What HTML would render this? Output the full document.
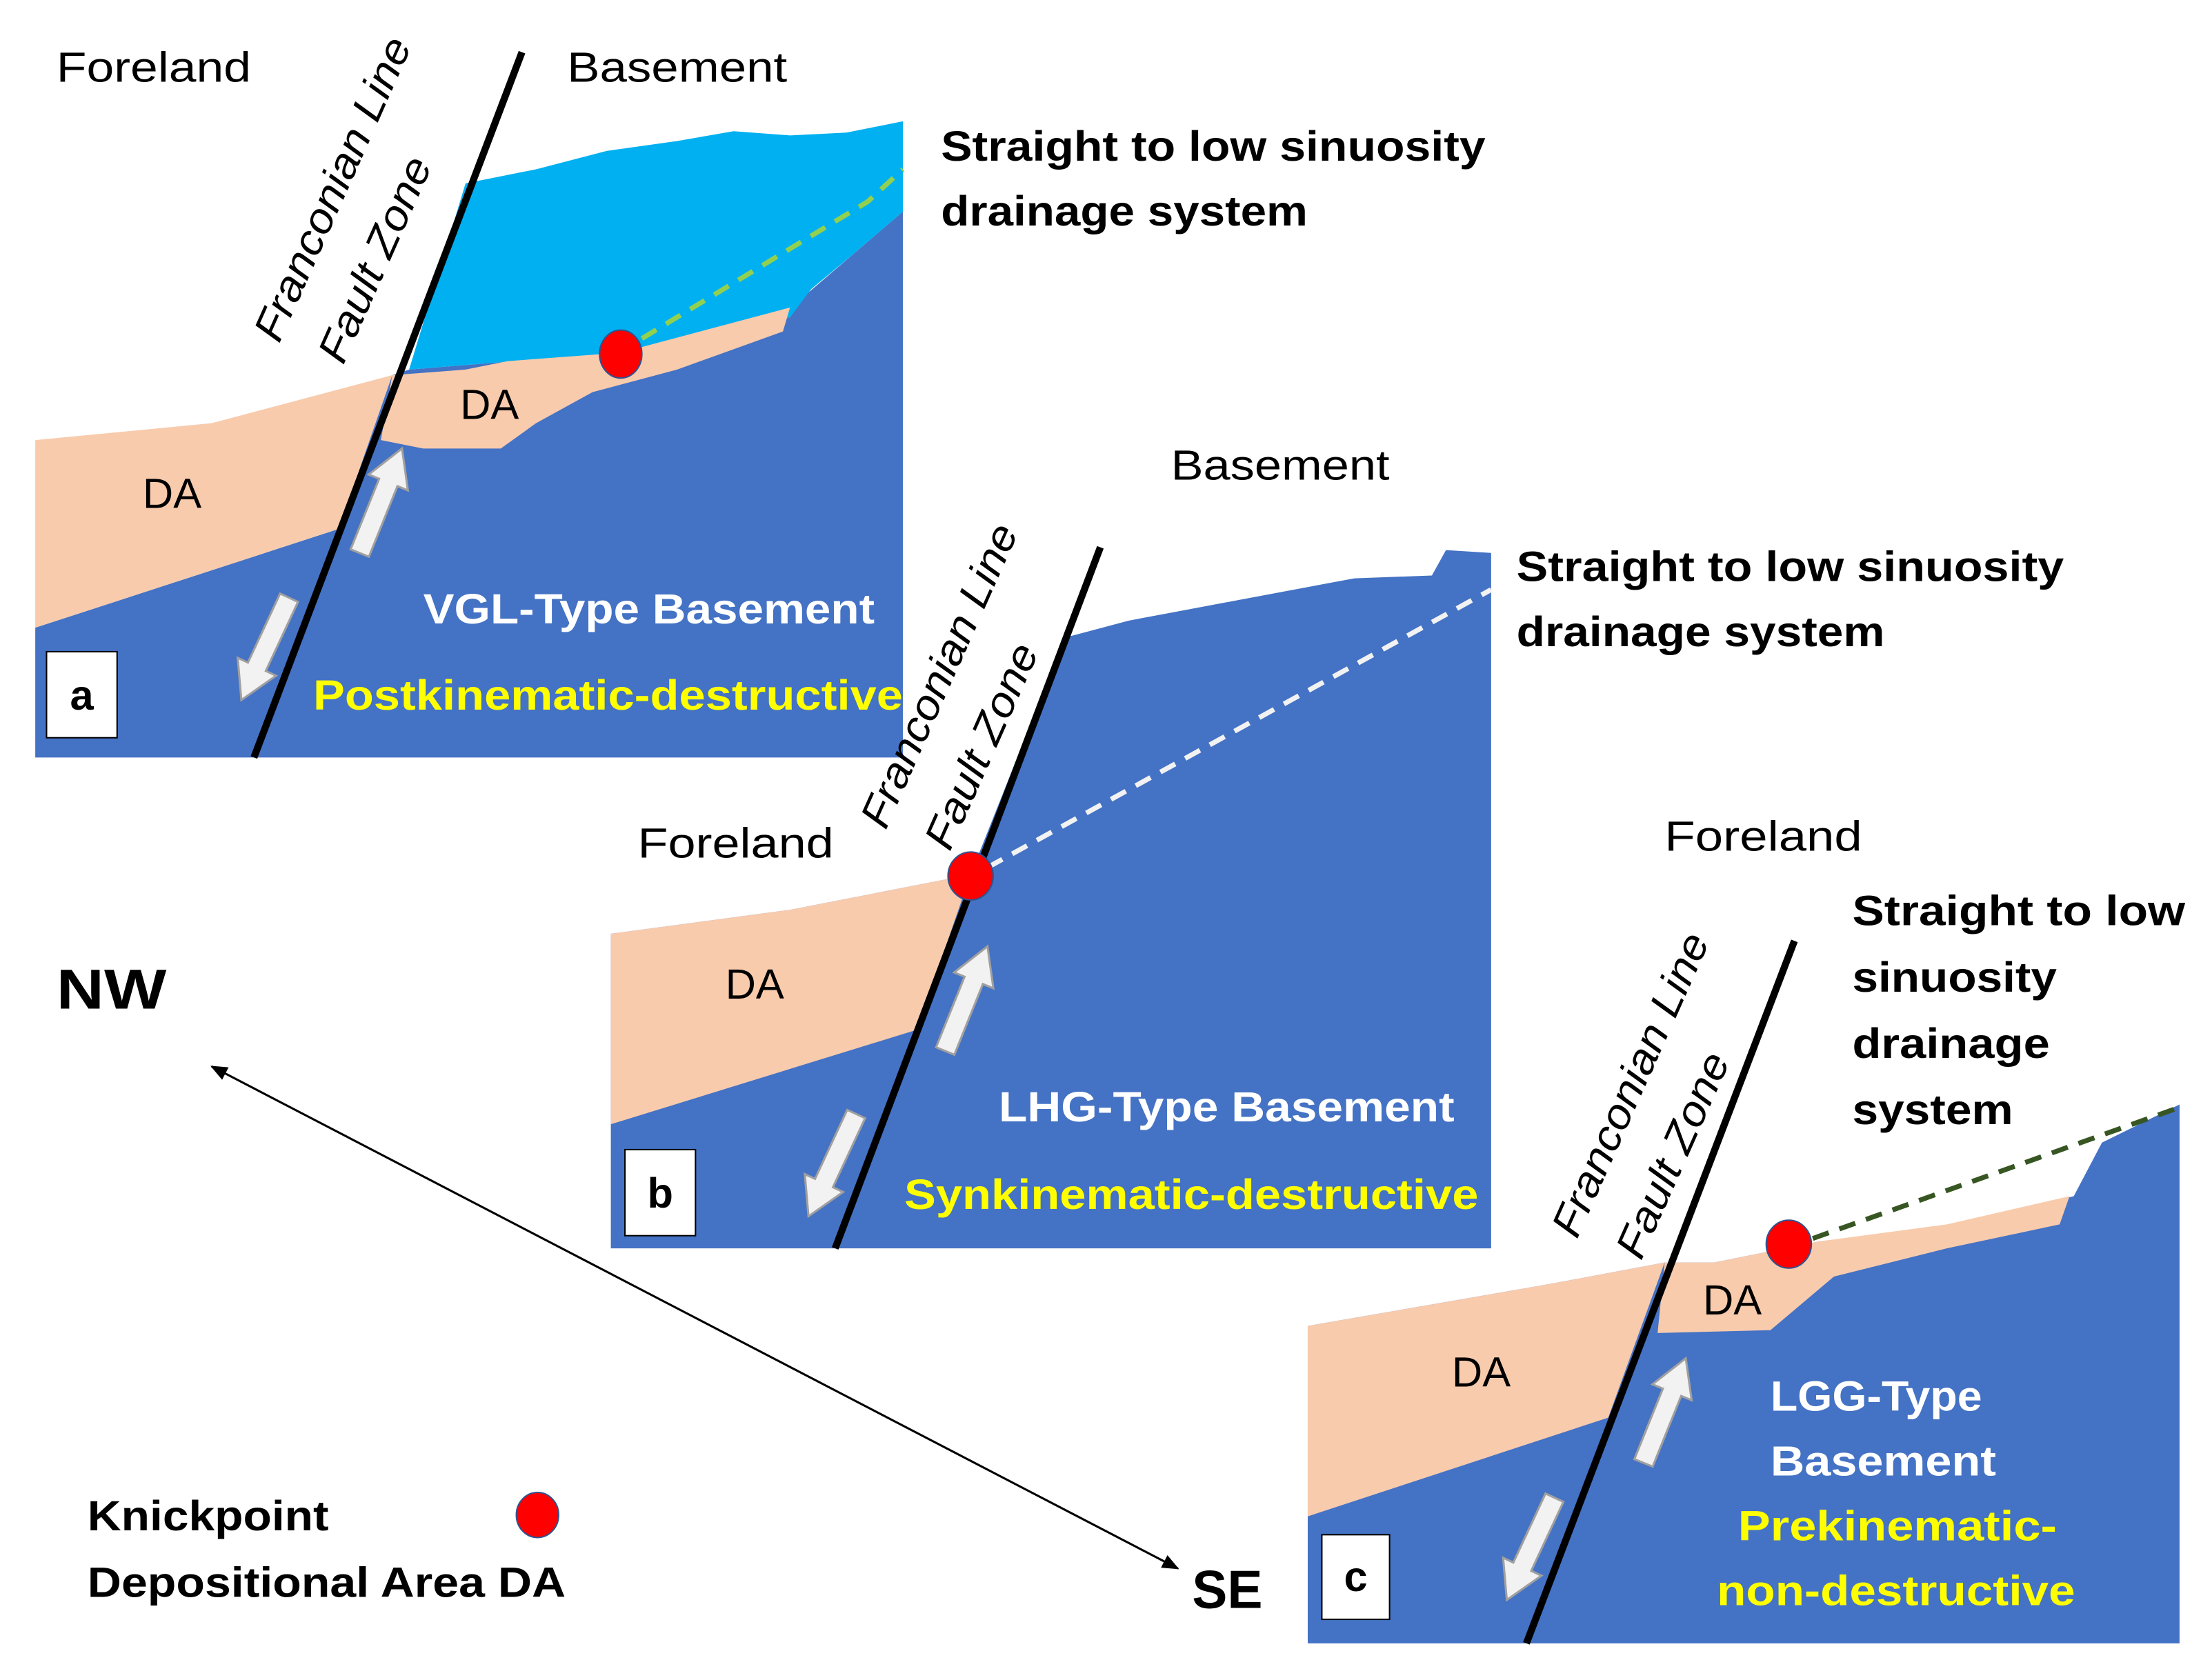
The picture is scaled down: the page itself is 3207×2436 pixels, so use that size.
<!DOCTYPE html>
<html><head><meta charset="utf-8"><style>
html,body{margin:0;padding:0;background:#fff;}
svg{display:block;}
text{font-family:"Liberation Sans",sans-serif;}
.t{font-size:30px;fill:#000;}
.b{font-size:30px;font-weight:bold;}
</style></head><body>
<svg width="3207" height="2436" viewBox="0 0 1568 1191" preserveAspectRatio="none" xmlns="http://www.w3.org/2000/svg">
<defs>
<path id="arr" d="M-7,40 L7,40 L7,-14 L15,-14 L0,-40 L-15,-14 L-7,-14 Z" fill="#F2F2F2" stroke="#A0A0A0" stroke-width="1.5"/>
<marker id="mk" markerWidth="12" markerHeight="10" refX="11" refY="5" orient="auto-start-reverse" markerUnits="userSpaceOnUse"><path d="M0,0 L12,5 L0,10 Z" fill="#000"/></marker>
</defs>

<!-- Panel a -->
<polygon points="25,445 240,375 278,266 290,262 440,250 560,225 570,210 640,150 640,537 25,537" fill="#4472C4"/>
<polygon points="330,130 380,120 430,107 480,100 520,93 560,96 600,94 640,86 640,150 605,180 575,205 560,225 440,250 290,262" fill="#00B0F0"/>
<polygon points="25,312 150,300 278,266 240,375 25,445" fill="#F8CBAD"/>
<polygon points="278,266 330,262 360,256 440,250 560,218 555,235 480,262 420,278 380,300 355,318 300,318 270,312" fill="#F8CBAD"/>
<line x1="370" y1="37" x2="180" y2="537" stroke="#000" stroke-width="5"/>
<polyline points="455,240 615,143 640,120" fill="none" stroke="#92D050" stroke-width="3.5" stroke-dasharray="12,8"/>
<ellipse cx="440" cy="251" rx="15" ry="17" fill="#FF0000" stroke="#2F528F" stroke-width="1"/>
<use href="#arr" transform="translate(270,355) rotate(22)"/>
<use href="#arr" transform="translate(188,460) rotate(205)"/>
<rect x="33" y="462" width="50" height="61" fill="#fff" stroke="#000" stroke-width="1"/>
<text x="58" y="503" class="b" text-anchor="middle">a</text>
<text x="40" y="58" class="t" textLength="138" lengthAdjust="spacingAndGlyphs">Foreland</text>
<text x="402" y="58" class="t" textLength="156" lengthAdjust="spacingAndGlyphs">Basement</text>
<text transform="translate(245,138) rotate(-66)" class="t" font-style="italic" text-anchor="middle" textLength="232" lengthAdjust="spacingAndGlyphs">Franconian Line</text>
<text transform="translate(275,188) rotate(-66)" class="t" font-style="italic" text-anchor="middle" textLength="156" lengthAdjust="spacingAndGlyphs">Fault Zone</text>
<text x="122" y="360" class="t" text-anchor="middle">DA</text>
<text x="347" y="297" class="t" text-anchor="middle">DA</text>
<text x="300" y="442" class="b" fill="#fff" textLength="320" lengthAdjust="spacingAndGlyphs">VGL-Type Basement</text>
<text x="222" y="503" class="b" fill="#FFFF00" textLength="418" lengthAdjust="spacingAndGlyphs">Postkinematic-destructive</text>
<text x="667" y="114" class="b" textLength="386" lengthAdjust="spacingAndGlyphs">Straight to low sinuosity</text>
<text x="667" y="160" class="b" textLength="260" lengthAdjust="spacingAndGlyphs">drainage system</text>

<!-- Panel b -->
<polygon points="433,662 560,645 688,620 755,452 800,440 880,425 960,410 1015,408 1025,390 1057,392 1057,885 433,885" fill="#4472C4"/>
<polygon points="433,662 560,645 688,620 650,730 433,797" fill="#F8CBAD"/>
<line x1="780" y1="388" x2="592" y2="885" stroke="#000" stroke-width="5"/>
<line x1="700" y1="615" x2="1057" y2="418" stroke="#F2F2F2" stroke-width="3.5" stroke-dasharray="12,8"/>
<ellipse cx="688" cy="621" rx="16" ry="17" fill="#FF0000" stroke="#2F528F" stroke-width="1"/>
<use href="#arr" transform="translate(685,708) rotate(22)"/>
<use href="#arr" transform="translate(590,826) rotate(205)"/>
<rect x="443" y="815" width="50" height="61" fill="#fff" stroke="#000" stroke-width="1"/>
<text x="468" y="856" class="b" text-anchor="middle">b</text>
<text x="830" y="340" class="t" textLength="155" lengthAdjust="spacingAndGlyphs">Basement</text>
<text x="452" y="608" class="t" textLength="139" lengthAdjust="spacingAndGlyphs">Foreland</text>
<text transform="translate(675,483) rotate(-66)" class="t" font-style="italic" text-anchor="middle" textLength="232" lengthAdjust="spacingAndGlyphs">Franconian Line</text>
<text transform="translate(705,533) rotate(-66)" class="t" font-style="italic" text-anchor="middle" textLength="156" lengthAdjust="spacingAndGlyphs">Fault Zone</text>
<text x="535" y="708" class="t" text-anchor="middle">DA</text>
<text x="708" y="795" class="b" fill="#fff" textLength="323" lengthAdjust="spacingAndGlyphs">LHG-Type Basement</text>
<text x="641" y="857" class="b" fill="#FFFF00" textLength="407" lengthAdjust="spacingAndGlyphs">Synkinematic-destructive</text>
<text x="1075" y="412" class="b" textLength="388" lengthAdjust="spacingAndGlyphs">Straight to low sinuosity</text>
<text x="1075" y="458" class="b" textLength="261" lengthAdjust="spacingAndGlyphs">drainage system</text>

<!-- Panel c -->
<polygon points="927,940 1100,910 1180,895 1215,895 1290,880 1380,870 1470,848 1490,810 1545,783 1545,1165 927,1165" fill="#4472C4"/>
<polygon points="927,940 1100,910 1180,895 1140,1005 927,1075" fill="#F8CBAD"/>
<polygon points="1180,895 1215,895 1290,880 1380,868 1467,848 1460,868 1380,885 1300,905 1255,943 1175,945" fill="#F8CBAD"/>
<line x1="1272" y1="667" x2="1082" y2="1165" stroke="#000" stroke-width="5"/>
<line x1="1285" y1="878" x2="1545" y2="785" stroke="#375623" stroke-width="3.5" stroke-dasharray="12,8"/>
<ellipse cx="1268" cy="882" rx="16" ry="17" fill="#FF0000" stroke="#2F528F" stroke-width="1"/>
<use href="#arr" transform="translate(1180,1000) rotate(22)"/>
<use href="#arr" transform="translate(1085,1098) rotate(205)"/>
<rect x="937" y="1088" width="48" height="60" fill="#fff" stroke="#000" stroke-width="1"/>
<text x="961" y="1128" class="b" text-anchor="middle">c</text>
<text x="1180" y="603" class="t" textLength="140" lengthAdjust="spacingAndGlyphs">Foreland</text>
<text transform="translate(1165,773) rotate(-66)" class="t" font-style="italic" text-anchor="middle" textLength="232" lengthAdjust="spacingAndGlyphs">Franconian Line</text>
<text transform="translate(1195,823) rotate(-66)" class="t" font-style="italic" text-anchor="middle" textLength="156" lengthAdjust="spacingAndGlyphs">Fault Zone</text>
<text x="1050" y="983" class="t" text-anchor="middle">DA</text>
<text x="1228" y="932" class="t" text-anchor="middle">DA</text>
<text x="1255" y="1000" class="b" fill="#fff" textLength="150" lengthAdjust="spacingAndGlyphs">LGG-Type</text>
<text x="1255" y="1046" class="b" fill="#fff" textLength="160" lengthAdjust="spacingAndGlyphs">Basement</text>
<text x="1232" y="1092" class="b" fill="#FFFF00" textLength="226" lengthAdjust="spacingAndGlyphs">Prekinematic-</text>
<text x="1217" y="1138" class="b" fill="#FFFF00" textLength="254" lengthAdjust="spacingAndGlyphs">non-destructive</text>
<text x="1313" y="656" class="b" textLength="236" lengthAdjust="spacingAndGlyphs">Straight to low</text>
<text x="1313" y="703" class="b" textLength="145" lengthAdjust="spacingAndGlyphs">sinuosity</text>
<text x="1313" y="750" class="b" textLength="140" lengthAdjust="spacingAndGlyphs">drainage</text>
<text x="1313" y="797" class="b" textLength="114" lengthAdjust="spacingAndGlyphs">system</text>

<!-- NW-SE -->
<text x="40" y="715" font-size="40" font-weight="bold" textLength="78" lengthAdjust="spacingAndGlyphs">NW</text>
<text x="845" y="1140" font-size="38" font-weight="bold" textLength="50" lengthAdjust="spacingAndGlyphs">SE</text>
<line x1="150" y1="756" x2="835" y2="1112" stroke="#000" stroke-width="1.5" marker-start="url(#mk)" marker-end="url(#mk)"/>

<!-- Legend -->
<text x="62" y="1085" class="b" textLength="171" lengthAdjust="spacingAndGlyphs">Knickpoint</text>
<ellipse cx="381" cy="1074" rx="15" ry="16" fill="#FF0000" stroke="#2F528F" stroke-width="1"/>
<text x="62" y="1132" class="b" textLength="339" lengthAdjust="spacingAndGlyphs">Depositional Area DA</text>
</svg>
</body></html>
